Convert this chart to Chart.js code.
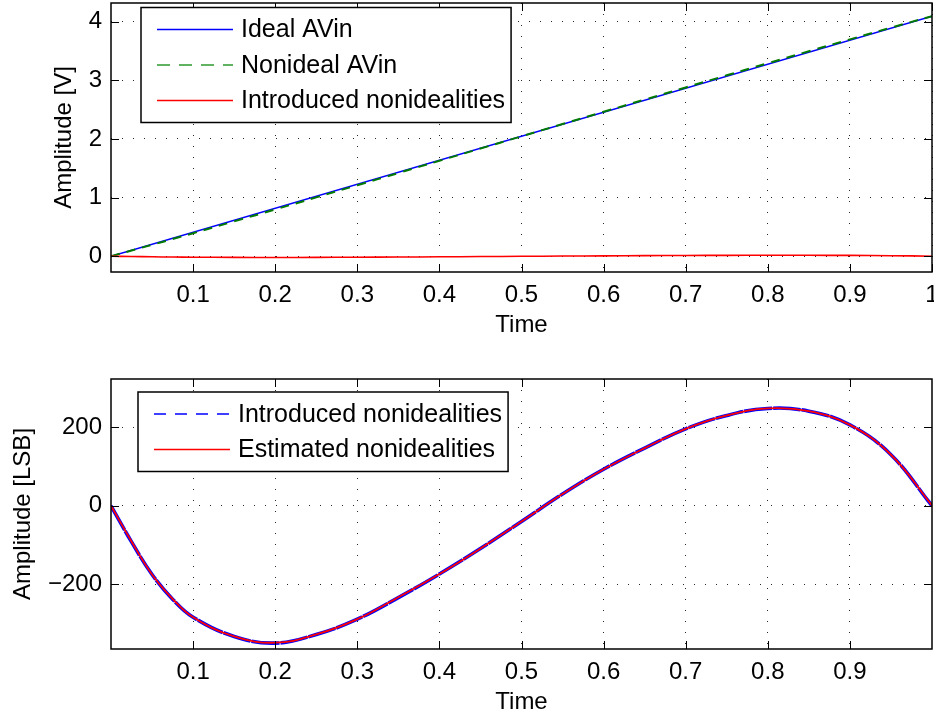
<!DOCTYPE html>
<html><head><meta charset="utf-8">
<script src="https://cdn.jsdelivr.net/npm/chart.js@4.4.1/dist/chart.umd.min.js"></script>
<style>
html,body{margin:0;padding:0;background:#fff;}
#wrap{position:relative;width:934px;height:717px;overflow:hidden;background:#fff;}
canvas{position:absolute;left:0;}
</style></head><body>
<div id="wrap">
<canvas id="c1" width="934" height="358" style="top:0px"></canvas>
<canvas id="c2" width="934" height="359" style="top:358px"></canvas>
</div>
<script>
// ---------- data ----------
const timeValues = [0, 0.025, 0.05, 0.075, 0.1, 0.15, 0.2, 0.25, 0.3, 0.35, 0.4, 0.45, 0.5, 0.55, 0.6, 0.65, 0.7, 0.75, 0.8, 0.85, 0.9, 0.95, 1];
const idealTime = [0, 1];
const idealAVin = [0, 4.096];
const nonidealAVin = [0, 0.0966, 0.1938, 0.2923, 0.3918, 0.5936, 0.7973, 1.0035, 1.2107, 1.4190, 1.6275, 1.8364, 2.0455, 2.2547, 2.4634, 2.6716, 2.8795, 3.0864, 3.2923, 3.4967, 3.6993, 3.8993, 4.096];
const introducedV = [0, -0.0058, -0.0109, -0.0149, -0.0178, -0.0208, -0.0219, -0.0205, -0.0181, -0.0146, -0.0109, -0.0068, -0.0025, 0.0019, 0.0058, 0.0092, 0.0123, 0.0144, 0.0155, 0.0151, 0.0129, 0.0081, 0];
const introducedLSB = [0, -92, -175, -238, -284, -333, -350, -328, -289, -234, -174, -109, -40, 30, 93, 147, 196, 230, 248, 241, 206, 130, 0];
const estimatedLSB = [0, -91, -175, -237, -284, -333, -349, -328, -289, -233, -174, -109, -40, 30, 93, 147, 196, 230, 248, 241, 206, 130, 1];

const xTicksTop = [0.1, 0.2, 0.3, 0.4, 0.5, 0.6, 0.7, 0.8, 0.9, 1];
const xTicksBottom = [0.1, 0.2, 0.3, 0.4, 0.5, 0.6, 0.7, 0.8, 0.9];
const yTicksTop = [0, 1, 2, 3, 4];
const yTicksBottom = [-200, 0, 200];

const topNames = ['Ideal AVin', 'Nonideal AVin', 'Introduced nonidealities'];
const bottomNames = ['Introduced nonidealities', 'Estimated nonidealities'];
const xTitle = 'Time';
const yTitleTop = 'Amplitude [V]';
const yTitleBottom = 'Amplitude [LSB]';

// ---------- helpers ----------
const FONT = '"Liberation Sans", Arial, Helvetica, sans-serif';
Chart.defaults.font.family = FONT;
Chart.defaults.color = '#000';

function pts(xsArr, ysArr) { return xsArr.map((x, i) => ({x: x, y: ysArr[i]})); }
function fmt(v) { return v < 0 ? '\u2212' + Math.abs(v) : String(v); }

const framePlugin = {
  id: 'frame',
  afterDraw(chart, args, opts) {
    const ctx = chart.ctx, a = chart.chartArea;
    const xs = chart.scales.x, ys = chart.scales.y;
    const tl = 8;
    ctx.save();
    ctx.strokeStyle = '#000';
    ctx.lineWidth = 1;
    ctx.setLineDash([]);
    ctx.beginPath();
    xs.ticks.forEach(t => {
      const p = Math.round(xs.getPixelForValue(t.value)) + 0.5;
      ctx.moveTo(p, a.bottom); ctx.lineTo(p, a.bottom - tl);
      ctx.moveTo(p, a.top); ctx.lineTo(p, a.top + tl);
    });
    ys.ticks.forEach(t => {
      const p = Math.round(ys.getPixelForValue(t.value)) + 0.5;
      ctx.moveTo(a.left, p); ctx.lineTo(a.left + tl, p);
      ctx.moveTo(a.right, p); ctx.lineTo(a.right - tl, p);
    });
    ctx.stroke();
    ctx.lineWidth = 1.5;
    ctx.strokeRect(a.left, a.top, a.right - a.left, a.bottom - a.top);

    // legend
    const L = opts.legend;
    const ds = chart.data.datasets;
    ctx.font = '25px ' + FONT;
    let maxW = 0;
    ds.forEach(d => { maxW = Math.max(maxW, ctx.measureText(d.label).width); });
    const bx = a.left + L.dx, by = a.top + L.dy;
    const rowH = 35.5, padV = 22;
    const bw = 100 + maxW + 6;
    const bh = 2 * padV + (ds.length - 1) * rowH;
    ctx.fillStyle = '#fff';
    ctx.fillRect(bx, by, bw, bh);
    ctx.lineWidth = 1.5;
    ctx.strokeStyle = '#000';
    ctx.strokeRect(bx, by, bw, bh);
    ds.forEach((d, i) => {
      const y = by + padV + i * rowH;
      const st = L.styles[i];
      ctx.save();
      ctx.strokeStyle = st.color;
      ctx.lineWidth = st.width;
      ctx.setLineDash(st.dash);
      ctx.beginPath();
      ctx.moveTo(bx + 16, y); ctx.lineTo(bx + 92, y);
      ctx.stroke();
      ctx.restore();
      ctx.fillStyle = '#000';
      ctx.textBaseline = 'middle';
      ctx.textAlign = 'left';
      ctx.fillText(d.label, bx + 100, y + 1);
    });
    ctx.restore();
  }
};

function makeOptions(cfg) {
  return {
    responsive: false,
    animation: false,
    devicePixelRatio: 1,
    layout: {padding: {top: cfg.padTop, right: 2, left: 0, bottom: 0}},
    plugins: {
      legend: {display: false},
      tooltip: {enabled: false},
      frame: {legend: cfg.legend}
    },
    elements: {point: {radius: 0}, line: {tension: 0.4}},
    scales: {
      x: {
        type: 'linear', min: 0, max: 1,
        afterBuildTicks: s => { s.ticks = cfg.xTicks.map(v => ({value: v})); },
        afterFit: s => { s.height = cfg.xHeight; s.paddingLeft = 0; s.paddingRight = 0; },
        ticks: {font: {size: 24}, padding: 9, autoSkip: false, maxRotation: 0, callback: v => fmt(v)},
        grid: {color: 'rgba(0,0,0,0.85)', lineWidth: 1, drawTicks: false},
        border: {display: false, dash: [1, 10]},
        title: {display: true, text: xTitle, font: {size: 24}, padding: {top: 0, bottom: cfg.xTitlePad}}
      },
      y: {
        type: 'linear', min: cfg.yMin, max: cfg.yMax,
        afterBuildTicks: s => { s.ticks = cfg.yTicks.map(v => ({value: v})); },
        afterFit: s => { s.width = 111; s.paddingTop = 0; s.paddingBottom = 0; },
        ticks: {font: {size: 24}, padding: 9, autoSkip: false, callback: v => fmt(v)},
        grid: {color: 'rgba(0,0,0,0.85)', lineWidth: 1, drawTicks: false},
        border: {display: false, dash: [1, 10]},
        title: {display: true, text: cfg.yTitle, font: {size: 24}, padding: {top: cfg.yTitlePad, bottom: 0}}
      }
    }
  };
}

// ---------- top chart ----------
new Chart(document.getElementById('c1'), {
  type: 'line',
  data: {
    datasets: [
      {label: topNames[0], data: pts(idealTime, idealAVin), borderColor: '#0000ff', borderWidth: 1.5, order: 3, tension: 0},
      {label: topNames[1], data: pts(timeValues, nonidealAVin), borderColor: '#007a00', borderWidth: 2, borderDash: [9, 7], order: 2},
      {label: topNames[2], data: pts(timeValues, introducedV), borderColor: '#ff0000', borderWidth: 1.6, order: 1}
    ]
  },
  options: makeOptions({
    padTop: 3, xHeight: 86, xTitlePad: 18.6, yTitlePad: 50, yTitle: yTitleTop,
    yMin: -0.27, yMax: 4.32, xTicks: xTicksTop, yTicks: yTicksTop,
    legend: {dx: 30, dy: 4.5, styles: [
      {color: '#0000ff', width: 1.5, dash: []},
      {color: '#2e9a2e', width: 1.5, dash: [13, 9]},
      {color: '#ff0000', width: 1.5, dash: []}
    ]}
  }),
  plugins: [framePlugin]
});

// ---------- bottom chart ----------
new Chart(document.getElementById('c2'), {
  type: 'line',
  data: {
    datasets: [
      {label: bottomNames[0], data: pts(timeValues, introducedLSB), borderColor: '#0000ff', borderWidth: 3.6, borderDash: [28, 1], order: 2},
      {label: bottomNames[1], data: pts(timeValues, estimatedLSB), borderColor: '#ff0000', borderWidth: 1.8, order: 1}
    ]
  },
  options: makeOptions({
    padTop: 21, xHeight: 68, xTitlePad: 0.6, yTitlePad: 9, yTitle: yTitleBottom,
    yMin: -365, yMax: 323, xTicks: xTicksBottom, yTicks: yTicksBottom,
    legend: {dx: 27, dy: 13, styles: [
      {color: '#0000ff', width: 1.5, dash: [12, 9]},
      {color: '#ff0000', width: 1.5, dash: []}
    ]}
  }),
  plugins: [framePlugin]
});
</script>
</body></html>
